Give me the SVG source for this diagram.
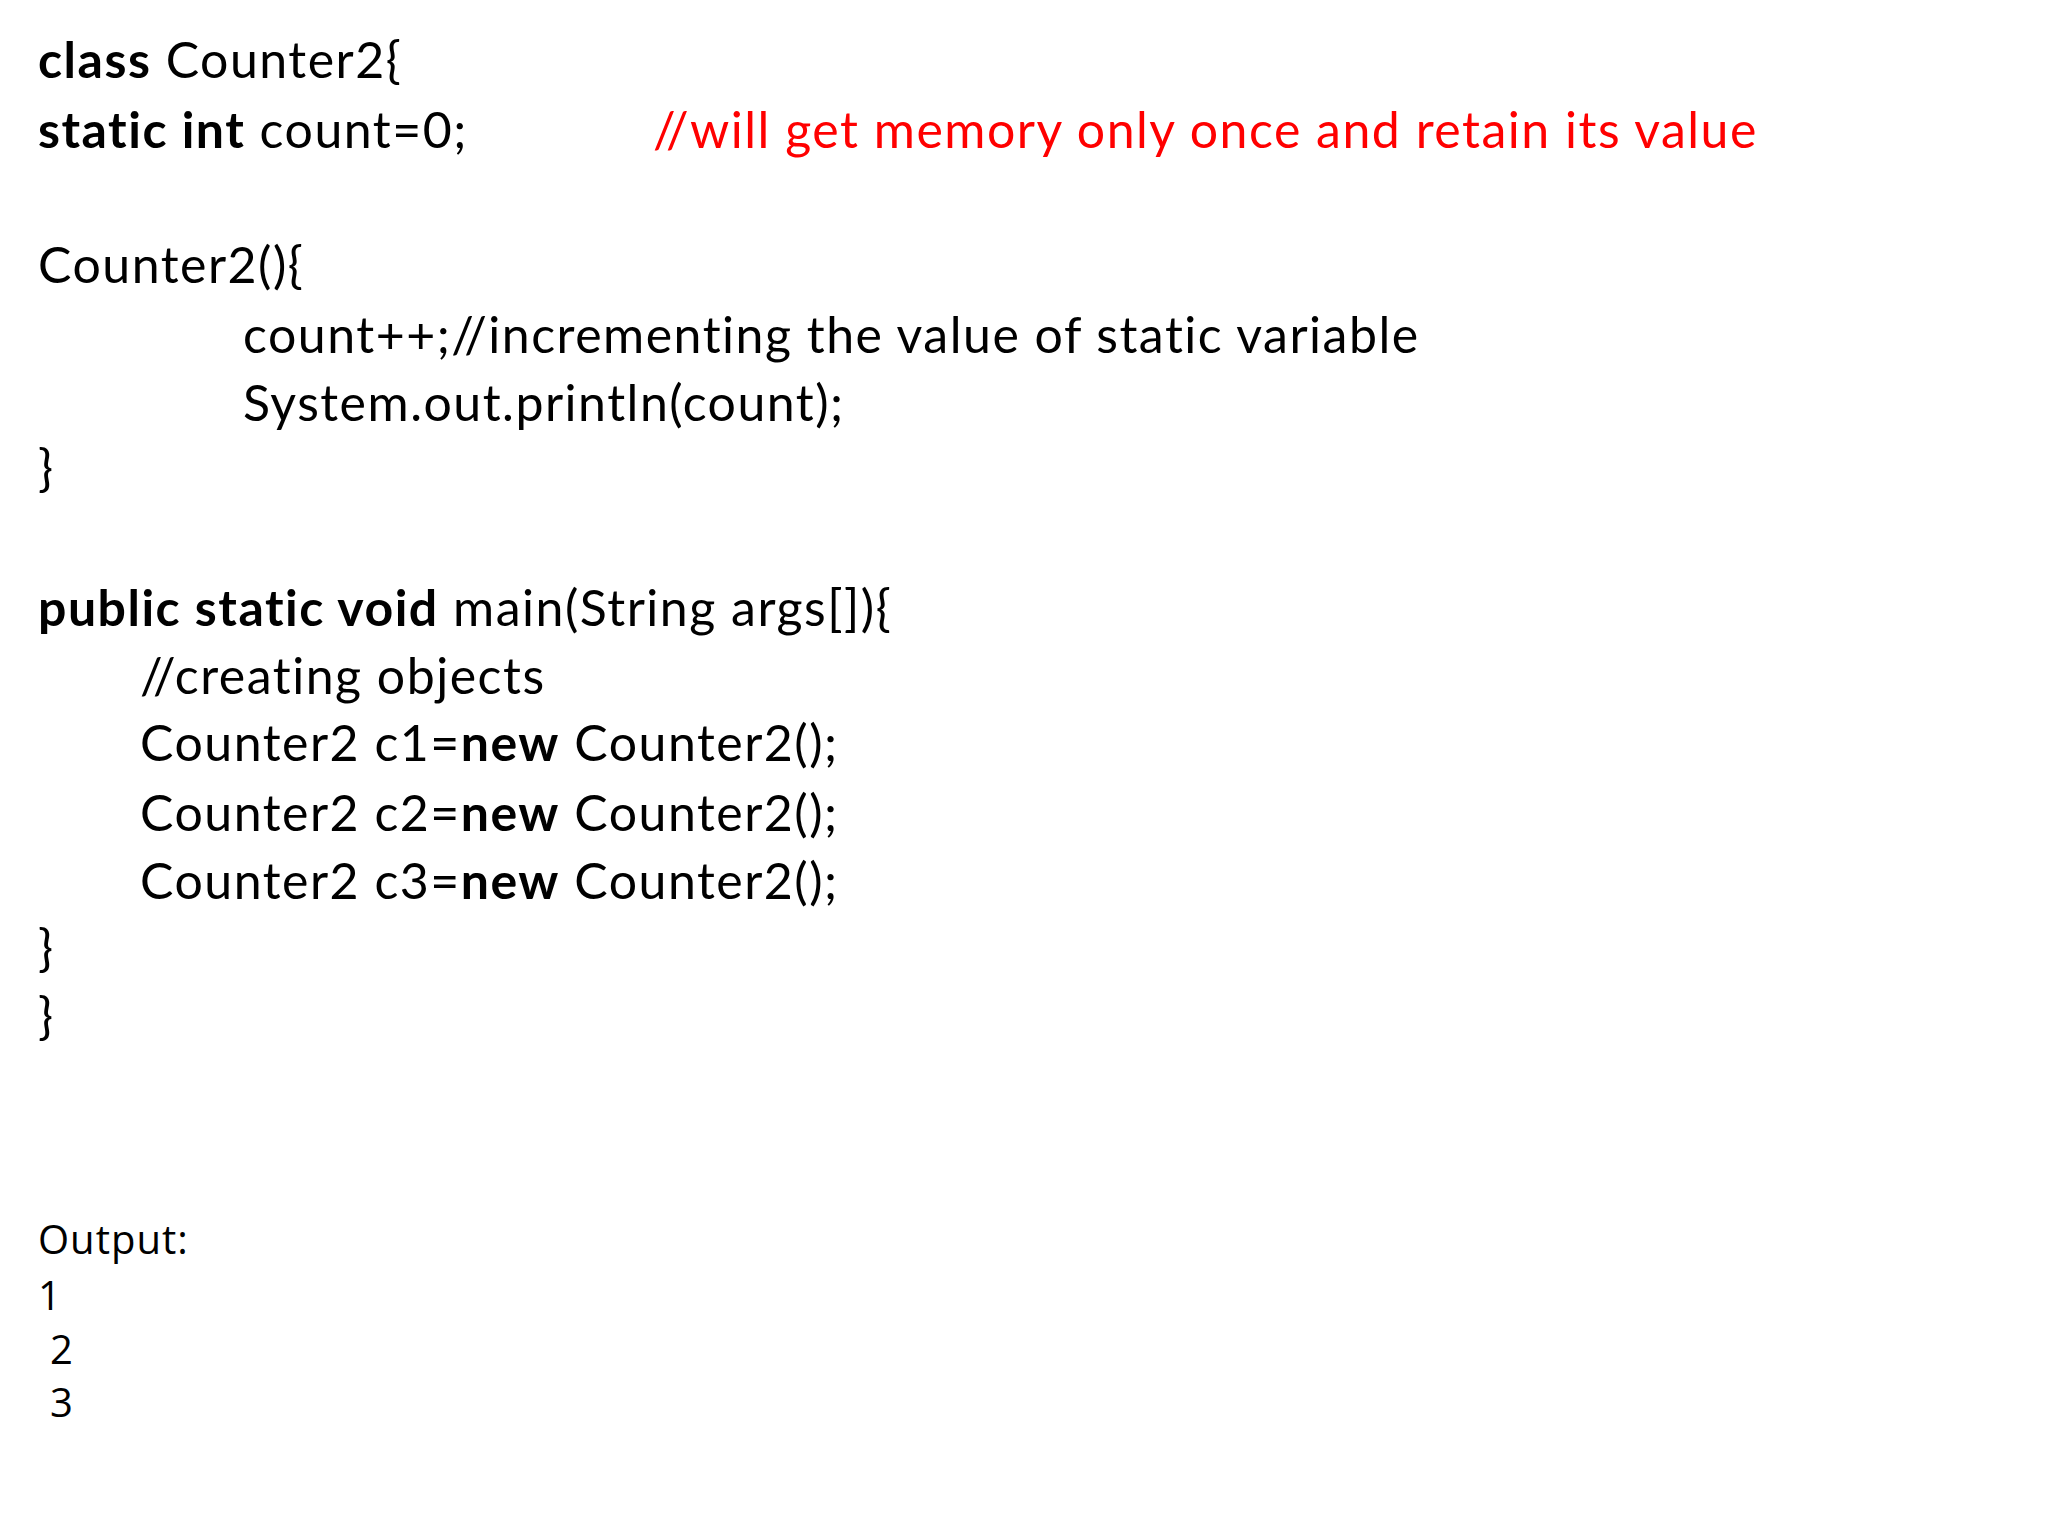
<svg xmlns="http://www.w3.org/2000/svg" width="2048" height="1536" viewBox="0 0 2048 1536">
<style>
.c{font-family:Lato,"Open Sans",sans-serif;font-size:50px;letter-spacing:1.5px;fill:#000}
.b{font-weight:bold}
.r{fill:#ff0000}
.o{font-family:"Open Sans","DejaVu Sans",sans-serif;font-size:40px;letter-spacing:1px;fill:#000}
</style>
<rect width="2048" height="1536" fill="#fff"/>
<g id="code">
<text class="c" x="38" y="78"><tspan class="b">class</tspan> Counter2{</text>
<text class="c" x="38" y="148"><tspan class="b">static int</tspan> count=0;</text>
<text class="c r" x="653" y="148">//will get memory only once and retain its value</text>
<text class="c" x="38" y="283">Counter2(){</text>
<text class="c" x="243" y="353">count++;//incrementing the value of static variable</text>
<text class="c" x="243" y="421">System.out.println(count);</text>
<text class="c" x="38" y="486">}</text>
<text class="c" x="38" y="626"><tspan class="b">public static void</tspan> main(String args[]){</text>
<text class="c" x="140" y="694">//creating objects</text>
<text class="c" x="140" y="761">Counter2 c1=<tspan class="b">new</tspan> Counter2();</text>
<text class="c" x="140" y="831">Counter2 c2=<tspan class="b">new</tspan> Counter2();</text>
<text class="c" x="140" y="899">Counter2 c3=<tspan class="b">new</tspan> Counter2();</text>
<text class="c" x="38" y="966">}</text>
<text class="c" x="38" y="1034">}</text>
</g>
<g id="output">
<text class="o" x="38" y="1254">Output:</text>
<text class="o" x="38" y="1310">1</text>
<text class="o" x="50" y="1364">2</text>
<text class="o" x="50" y="1417">3</text>
</g>
</svg>
